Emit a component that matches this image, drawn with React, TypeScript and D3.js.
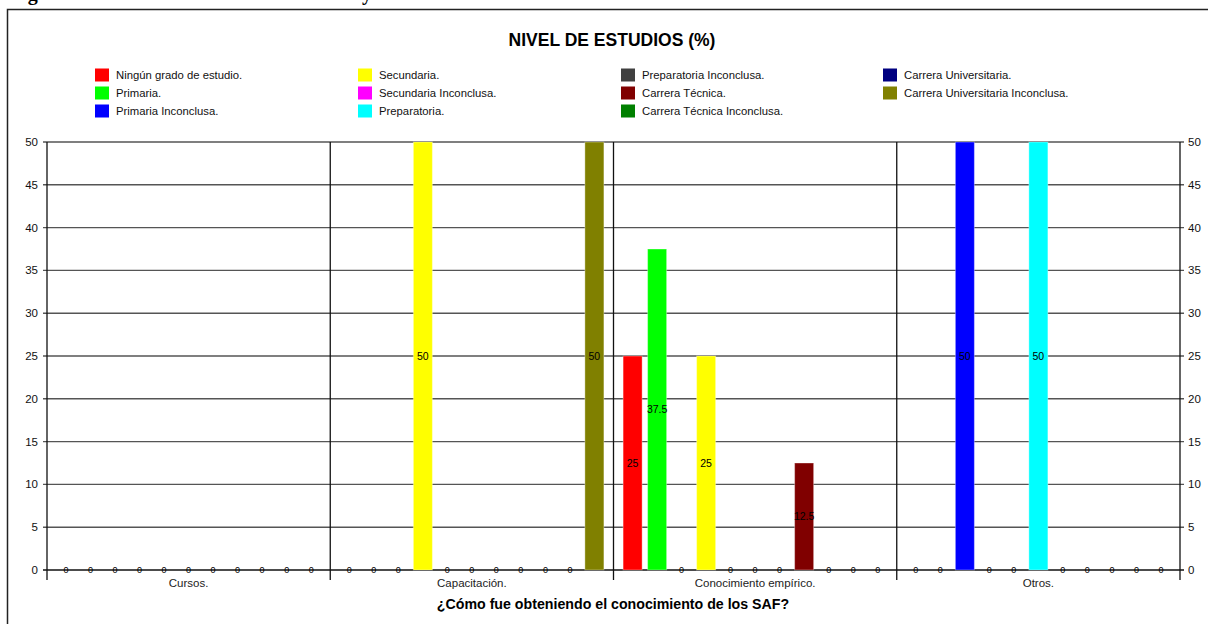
import React from "react";
import * as d3 from "d3";

const categories = ["Cursos.", "Capacitación.", "Conocimiento empírico.", "Otros."];
const seriesNames = [
  "Ningún grado de estudio.",
  "Primaria.",
  "Primaria Inconclusa.",
  "Secundaria.",
  "Secundaria Inconclusa.",
  "Preparatoria.",
  "Preparatoria Inconclusa.",
  "Carrera Técnica.",
  "Carrera Técnica Inconclusa.",
  "Carrera Universitaria.",
  "Carrera Universitaria Inconclusa.",
];
const seriesColors = [
  "#FF0000", "#00FF00", "#0000FF", "#FFFF00", "#FF00FF", "#00FFFF",
  "#404040", "#800000", "#008000", "#000080", "#808000",
];
const ningun = [0, 0, 25, 0];
const primaria = [0, 0, 37.5, 0];
const primariaInc = [0, 0, 0, 50];
const secundaria = [0, 50, 25, 0];
const secundariaInc = [0, 0, 0, 0];
const preparatoria = [0, 0, 0, 50];
const preparatoriaInc = [0, 0, 0, 0];
const carreraTec = [0, 0, 12.5, 0];
const carreraTecInc = [0, 0, 0, 0];
const carreraUni = [0, 0, 0, 0];
const carreraUniInc = [0, 50, 0, 0];
const seriesValues = [
  ningun, primaria, primariaInc, secundaria, secundariaInc, preparatoria,
  preparatoriaInc, carreraTec, carreraTecInc, carreraUni, carreraUniInc,
];
const yTicks = [0, 5, 10, 15, 20, 25, 30, 35, 40, 45, 50];

const FONT = "'Liberation Sans', Arial, sans-serif";

export default function App() {
  const W = 1208, H = 624;
  const x0 = 47, x1 = 1180, yTop = 142, yBot = 570;
  const x = d3.scaleBand<string>().domain(categories).range([x0, x1]).padding(0);
  const bw = x.bandwidth();
  const inner = d3
    .scaleBand<number>()
    .domain(d3.range(seriesNames.length))
    .range([0, bw])
    .paddingInner(0.224)
    .paddingOuter(0.392);
  const y = d3.scaleLinear().domain([0, 50]).range([yBot, yTop]);

  const legendX = [95, 358, 621, 883];
  const legendY = [75, 93, 111];

  return (
    <svg
      width={W}
      height={H}
      style={{ position: "absolute", left: 0, top: 0, background: "#fff" }}
      fontFamily={FONT}
    >
      <rect x={0} y={0} width={W} height={H} fill="#fff" />
      {/* cut-off document caption */}
      <text x={10} y={0} fontFamily="'Liberation Serif', 'DejaVu Serif', serif" fontWeight="bold" fontSize={20} fill="#000">
        Figura
      </text>
      <text x={362} y={0} fontFamily="'Liberation Serif', 'DejaVu Serif', serif" fontWeight="bold" fontSize={20} fill="#000">
        y
      </text>
      {/* frame */}
      <rect x={7.5} y={9.5} width={W + 10} height={H + 10} fill="none" stroke="#222" strokeWidth={1.5} />

      <text x={612} y={46} textAnchor="middle" fontWeight="bold" fontSize={17.5} fill="#000">
        NIVEL DE ESTUDIOS (%)
      </text>

      {/* legend */}
      {seriesNames.map((name, i) => {
        const col = Math.floor(i / 3);
        const row = i % 3;
        const lx = legendX[col];
        const ly = legendY[row];
        return (
          <g key={name}>
            <rect x={lx} y={ly - 6.5} width={14} height={13} fill={seriesColors[i]} />
            <text x={lx + 21} y={ly + 4} fontSize={11.3} fill="#111">
              {name}
            </text>
          </g>
        );
      })}

      {/* gridlines */}
      {yTicks.map((t) => (
        <g key={t}>
          <line
            x1={x0 - 4}
            x2={x1 + 4}
            y1={y(t)}
            y2={y(t)}
            stroke={t === 0 ? "#111" : "#555"}
            strokeWidth={1.4}
          />
          <text x={38} y={y(t) + 4} textAnchor="end" fontSize={11.5} fill="#111">
            {t}
          </text>
          <text x={1188} y={y(t) + 4} textAnchor="start" fontSize={11.5} fill="#111">
            {t}
          </text>
        </g>
      ))}

      {/* category separators */}
      {[...categories.map((c) => x(c) as number), x1].map((bx, i) => (
        <line key={i} x1={bx} x2={bx} y1={yTop} y2={yBot + 10} stroke="#111" strokeWidth={1.3} />
      ))}

      {/* bars */}
      {seriesValues.map((vals, si) =>
        vals.map((v, ci) => {
          const bx = (x(categories[ci]) as number) + (inner(si) as number);
          const w = inner.bandwidth();
          if (v <= 0) return null;
          return (
            <rect
              key={`${si}-${ci}`}
              x={bx}
              y={y(v)}
              width={w}
              height={y(0) - y(v)}
              fill={seriesColors[si]}
              stroke="rgba(255,255,255,0.35)"
              strokeWidth={1}
            />
          );
        })
      )}

      {/* value labels */}
      {seriesValues.map((vals, si) =>
        vals.map((v, ci) => {
          const cx = (x(categories[ci]) as number) + (inner(si) as number) + inner.bandwidth() / 2;
          const ly = v > 0 ? (y(v) + y(0)) / 2 + 3.5 : y(0) + 3;
          return (
            <text
              key={`l-${si}-${ci}`}
              x={cx}
              y={ly}
              textAnchor="middle"
              fontSize={v > 0 ? 10.5 : 9}
              fill="#000"
            >
              {v}
            </text>
          );
        })
      )}

      {/* category labels */}
      {categories.map((c) => (
        <text key={c} x={(x(c) as number) + bw / 2} y={587} textAnchor="middle" fontSize={11.5} fill="#222">
          {c}
        </text>
      ))}

      <text x={613} y={609} textAnchor="middle" fontWeight="bold" fontSize={14.2} fill="#000">
        ¿Cómo fue obteniendo el conocimiento de los SAF?
      </text>
    </svg>
  );
}
